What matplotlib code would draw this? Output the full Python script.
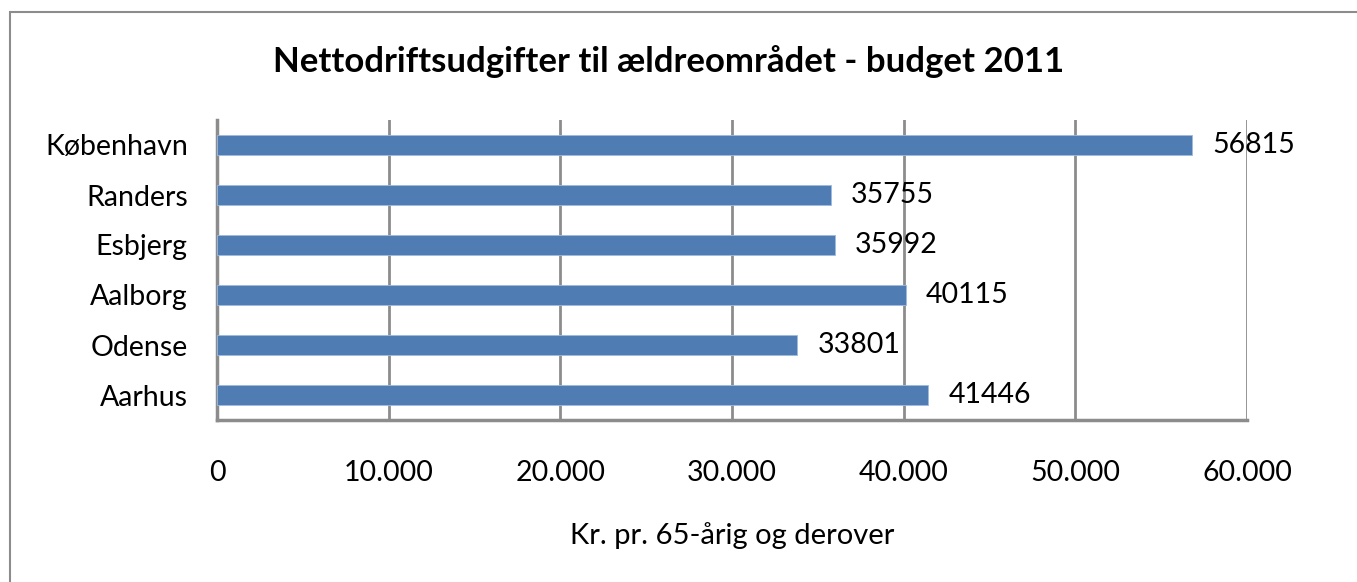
import matplotlib
matplotlib.use("Agg")
import matplotlib.pyplot as plt
from matplotlib.patches import Rectangle
from matplotlib.ticker import FuncFormatter

categories = ["Aarhus", "Odense", "Aalborg", "Esbjerg", "Randers", "København"]
values = [41446, 33801, 40115, 35992, 35755, 56815]
xticks = [0, 10000, 20000, 30000, 40000, 50000, 60000]

plt.rcParams['font.family'] = ['Lato', 'DejaVu Sans']

W, H = 1357, 582
fig = plt.figure(figsize=(W/100, H/100), dpi=100)
fig.patches.append(Rectangle((10/W, -0.1), 1.2, 1 - 12/H + 0.1, transform=fig.transFigure,
                             fill=False, edgecolor='#8c8c8c', linewidth=1.5))

ax = fig.add_axes([217/W, 1 - 420/H, (1247-217)/W, (420-120)/H])
ypos = list(range(len(categories)))
ax.barh(ypos, values, height=0.4, color='#4F7DB3', edgecolor='#9dbbe0', linewidth=0.6, zorder=3)
ax.set_xlim(0, 60000)
ax.set_ylim(-0.5, len(categories) - 0.5)
ax.set_yticks(ypos)
ax.set_yticklabels(categories, fontsize=20.5)
ax.set_xticks(xticks)
ax.xaxis.set_major_formatter(FuncFormatter(lambda v, p: f"{int(v):,}".replace(",", ".")))
ax.tick_params(axis='x', labelsize=20.5, length=0, pad=29)
ax.tick_params(axis='y', length=0, pad=21)
ax.grid(axis='x', color='#8c8c8c', linewidth=2, zorder=0)
for s in ['top', 'right']:
    ax.spines[s].set_visible(False)
for s in ['left', 'bottom']:
    ax.spines[s].set_color('#8c8c8c')
    ax.spines[s].set_linewidth(2.5)

for y, v in zip(ypos, values):
    ax.annotate(str(v), (v, y), xytext=(20, 0), textcoords='offset pixels',
                va='center', ha='left', fontsize=20.5, zorder=5)

ax.set_xlabel("Kr. pr. 65-årig og derover", fontsize=21, labelpad=26)
fig.text(669/W, 1 - 62/H, "Nettodriftsudgifter til ældreområdet - budget 2011",
         ha='center', va='center', fontsize=25, fontweight='bold')

fig.savefig("out.png", dpi=100)
